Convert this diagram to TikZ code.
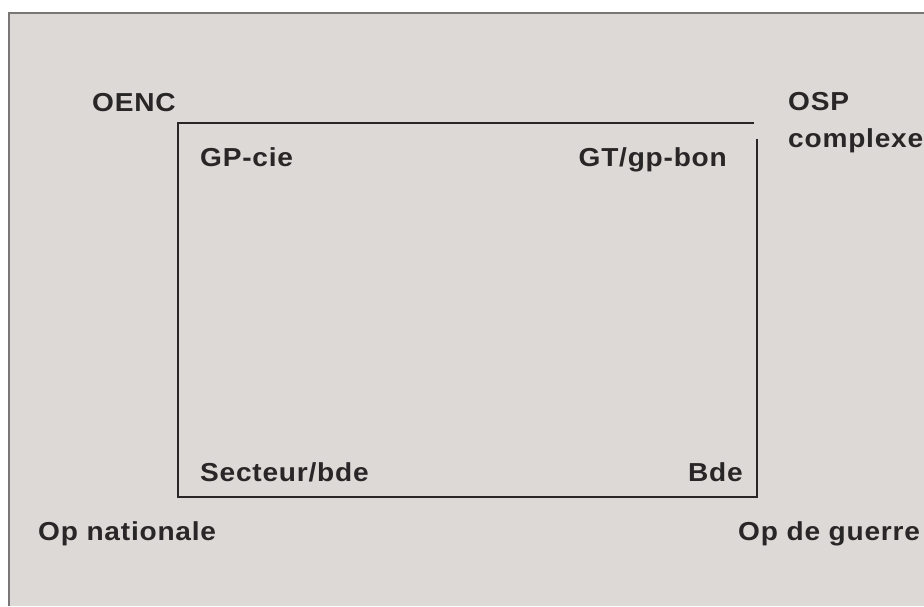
\documentclass[tikz,border=0pt]{standalone}
\usepackage{fontspec}
\setmainfont{Liberation Sans}
\newfontfamily\lblfont[FakeStretch=1.08,LetterSpace=3]{Liberation Sans Bold}
\definecolor{panel}{RGB}{221,217,215}
\definecolor{rim}{RGB}{120,118,118}
\definecolor{ink}{RGB}{40,38,38}
\begin{document}
\begin{tikzpicture}[x=1pt,y=-1pt,
  lbl/.style={anchor=base west,inner sep=0pt,text=ink,font=\lblfont\fontsize{26}{29}\selectfont},
  frame/.style={draw=ink,line width=2pt}]
\useasboundingbox (0,0) rectangle (924,606);
% panel background with its grey rim
\fill[white] (0,0) rectangle (924,606);
\fill[panel] (8,12) rectangle (924,606);
\draw[rim,line width=1.5pt] (8.75,606) -- (8.75,12.75) -- (924,12.75);
% open frame
\coordinate (tl) at (178,123);
\coordinate (tr) at (754,123);
\coordinate (rt) at (757,139);
\coordinate (bl) at (178,497);
\coordinate (br) at (757,497);
\draw[frame] (tr) -- (tl) -- (bl) -- (br) -- (rt);
% labels
\node[lbl] (oenc) at (92,111) {OENC};
\node[lbl] (gpcie) at (200,166) {GP-cie};
\node[lbl,anchor=base east] (gtgp) at (727,166) {GT/gp-bon};
\node[lbl] (osp) at (788,110) {OSP};
\node[lbl] (cplx) at (788,147) {complexe};
\node[lbl] (sect) at (200,481) {Secteur/bde};
\node[lbl,anchor=base east] (bde) at (743,481) {Bde};
\node[lbl] (opnat) at (38,540) {Op nationale};
\node[lbl] (opg) at (738,540) {Op de guerre};
\end{tikzpicture}
\end{document}
